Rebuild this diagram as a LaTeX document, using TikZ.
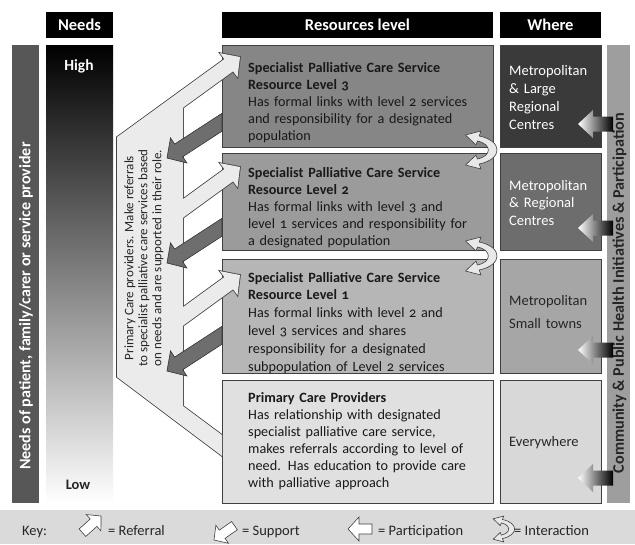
\documentclass[tikz,border=0pt]{standalone}
\usepackage{fontspec}
\setmainfont{Carlito}[Numbers=OldStyle]
\definecolor{lvlthree}{HTML}{868686}
\definecolor{lvltwo}{HTML}{9B9B9B}
\definecolor{lvlone}{HTML}{B6B6B6}
\definecolor{lvlprim}{HTML}{E0E0E0}
\definecolor{whthree}{HTML}{3A3A3A}
\definecolor{whtwo}{HTML}{6D6D6D}
\definecolor{whone}{HTML}{A6A6A6}
\definecolor{whprim}{HTML}{D8D8D8}
\definecolor{leftbar}{HTML}{575757}
\definecolor{rightbar}{HTML}{9E9E9E}
\definecolor{keybar}{HTML}{DADADA}
\definecolor{lightshape}{HTML}{EBEBEB}
\definecolor{suparrow}{HTML}{6E6E6E}
\definecolor{edge}{HTML}{404040}
\begin{document}
\begin{tikzpicture}[x=1pt,y=-1pt,
  hdr/.style={fill=black, text=white, font=\bfseries\fontsize{16.5}{18}\selectfont, inner sep=0, minimum height=26pt},
  box/.style={draw=edge, line width=0.8pt, inner sep=0},
  body/.style={anchor=base west, text width=240pt, align=left, inner sep=0, font=\fontsize{14.2}{17}\selectfont, text=black!90},
  wheretext/.style={anchor=base west, text width=90pt, align=left, inner sep=0, font=\fontsize{14.5}{18}\selectfont},
  keytext/.style={anchor=base west, inner sep=0, font=\fontsize{14.5}{16}\selectfont, text=black!85},
  supportarrow/.style={fill=suparrow, draw=black!80, line width=0.6pt},
  partarrow/.style={left color=white, right color=black},
  keyicon/.style={fill=white, draw=edge, line width=0.6pt},
  interact/.pic={
    \filldraw[fill=gray!18, draw=edge, line width=0.6pt]
      (-14.5,-15) -- (1,-19) -- (-0.8,-14) .. controls (23,-9) and (23,9) .. (-0.8,14)
      -- (1,19) -- (-14.5,15) -- (-4,5) -- (-2.6,9) .. controls (12,6) and (12,-6) .. (-2.6,-9)
      -- (-4,-5) -- cycle;
  }
]
\useasboundingbox (0,0) rectangle (635,544);

% key bar
\fill[keybar] (0,510) rectangle (635,544);

% headers
\node[hdr, minimum width=67pt] (hneeds) at (79.5,25) {Needs};
\node[hdr, minimum width=271pt] (hres) at (357.5,25) {Resources level};
\node[hdr, minimum width=101pt] (hwhere) at (550.5,25) {Where};

% side bars
\node[fill=leftbar, minimum width=27pt, minimum height=458pt, inner sep=0] (lbar) at (25.5,274) {};
\node[rotate=90, text=white, font=\bfseries\fontsize{16}{17}\selectfont, inner sep=0] (lbartext) at (26,306) {Needs of patient, family/carer or service provider};
\node[fill=rightbar, minimum width=23pt, minimum height=458pt, inner sep=0] (rbar) at (618.5,274) {};
\node[rotate=90, text=black!85, font=\bfseries\fontsize{16.2}{17}\selectfont, inner sep=0] (rbartext) at (619.5,293) {Community \& Public Health Initiatives \& Participation};

% needs gradient column
\node[minimum width=67pt, minimum height=458pt, inner sep=0, top color=black, middle color=black!55, bottom color=white] (needscol) at (79.5,274) {};
\node[text=white, font=\bfseries\fontsize{15.5}{17}\selectfont, inner sep=0] (high) at (79,66) {High};
\node[text=black!85, font=\bfseries\fontsize{14.5}{16}\selectfont, inner sep=0] (low) at (78,485) {Low};

% resource boxes
\node[box, fill=lvlthree, minimum width=271pt, minimum height=102pt] (l3) at (357.5,96) {};
\node[box, fill=lvltwo, minimum width=271pt, minimum height=97pt] (l2) at (357.5,201.5) {};
\node[box, fill=lvlone, minimum width=271pt, minimum height=114pt] (l1) at (357.5,316) {};
\node[box, fill=lvlprim, minimum width=271pt, minimum height=123pt] (lp) at (357.5,441.5) {};

% where boxes
\node[box, fill=whthree, minimum width=101pt, minimum height=102pt] (w3) at (550.5,96) {};
\node[box, fill=whtwo, minimum width=101pt, minimum height=97pt] (w2) at (550.5,201.5) {};
\node[box, fill=whone, minimum width=101pt, minimum height=114pt] (w1) at (550.5,316) {};
\node[box, fill=whprim, minimum width=101pt, minimum height=123pt] (wp) at (550.5,441.5) {};

% light referral shape (outline of union, then fill)
\def\lightmain{(117,137.1) -- (224.3,59.1) -- (219.9,53.1) -- (240,57) -- (237.5,77.3) -- (233.1,71.3) -- (183,107.7) -- (183,406) -- (222,435) -- (222,456) -- (117,377) -- cycle}
\def\refarrow#1{(170,#1+41.6) -- (224.3,#1+2.1) -- (219.9,#1-3.9) -- (240,#1) -- (237.5,#1+20.3) -- (233.1,#1+14.3) -- (170,#1+60.2) -- cycle}
\draw[edge, line width=1.6pt, line join=miter] \lightmain;
\draw[edge, line width=1.6pt] \refarrow{167};
\draw[edge, line width=1.6pt] \refarrow{275};
\fill[lightshape] \lightmain;
\fill[lightshape] \refarrow{167};
\fill[lightshape] \refarrow{275};

\node[rotate=90, align=center, inner sep=0, text=black!85, font=\fontsize{13}{14}\selectfont] (primtext) at (144,258)
  {Primary Care providers. Make referrals\\ to specialist palliative care services based\\ on needs and are supported in their role.};

% support arrows
\foreach \sy in {158,263,371}{
  \filldraw[supportarrow] (167,\sy) -- (170.5,\sy-20.2) -- (174.6,\sy-13.9) -- (222,\sy-44.7)
    -- (222,\sy-26.8) -- (182.8,\sy-1.3) -- (186.9,\sy+5) -- cycle;
}

% interaction symbols
\pic at (480,150) {interact};
\pic at (480,256) {interact};

% participation arrows
\foreach \cy in {124,228,350,478}{
  \shade[partarrow] (578,\cy) -- (593,\cy-14) -- (593,\cy-7.5) -- (613,\cy-7.5) -- (613,\cy+7.5) -- (593,\cy+7.5) -- (593,\cy+14) -- cycle;
}

% box texts
\node[body] (t3) at (248,72) {{\bfseries Specialist Palliative Care Service\\ Resource Level 3}\\ Has formal links with level 2 services\\ and responsibility for a designated\\ population};
\node[body] (t2) at (248,177) {{\bfseries Specialist Palliative Care Service\\ Resource Level 2}\\ Has formal links with level 3 and\\ level 1 services and responsibility for\\ a designated population};
\node[body, font=\fontsize{14.2}{17.8}\selectfont] (t1) at (248,282) {{\bfseries Specialist Palliative Care Service\\ Resource Level 1}\\ Has formal links with level 2 and\\ level 3 services and shares\\ responsibility for a designated\\ subpopulation of Level 2 services};
\node[body] (tp) at (248,402) {{\bfseries Primary Care Providers}\\ Has relationship with designated\\ specialist palliative care service,\\ makes referrals according to level of\\ need. Has education to provide care\\ with palliative approach};

\node[wheretext, text=white] (tw3) at (509,75) {Metropolitan\\ \& Large\\ Regional\\ Centres};
\node[wheretext, text=white, font=\fontsize{14.5}{17.5}\selectfont] (tw2) at (509,190) {Metropolitan\\ \& Regional\\ Centres};
\node[wheretext, text=black!85] (tw1a) at (509,305) {Metropolitan};
\node[wheretext, text=black!85] (tw1b) at (509,328) {Small towns};
\node[wheretext, text=black!85] (twp) at (509,446) {Everywhere};

% key
\node[keytext] (keylbl) at (22,535) {Key:};
\begin{scope}[shift={(101,516)}, rotate=42]
  \filldraw[keyicon] (0,0) -- (-10,11) -- (-10,5) -- (-25,5) -- (-25,-5) -- (-10,-5) -- (-10,-11) -- cycle;
\end{scope}
\node[keytext] (keyref) at (108,535) {= Referral};
\begin{scope}[shift={(214,540)}, rotate=215]
  \filldraw[keyicon] (0,0) -- (-10,11) -- (-10,5) -- (-25,5) -- (-25,-5) -- (-10,-5) -- (-10,-11) -- cycle;
\end{scope}
\node[keytext] (keysup) at (242,535) {= Support};
\filldraw[keyicon] (348,529) -- (359,517) -- (359,524) -- (372,524) -- (372,534) -- (359,534) -- (359,541) -- cycle;
\node[keytext] (keypart) at (378,535) {= Participation};
\pic[scale=0.68] at (503,529) {interact};
\node[keytext] (keyint) at (514,535) {= Interaction};
\end{tikzpicture}
\end{document}
